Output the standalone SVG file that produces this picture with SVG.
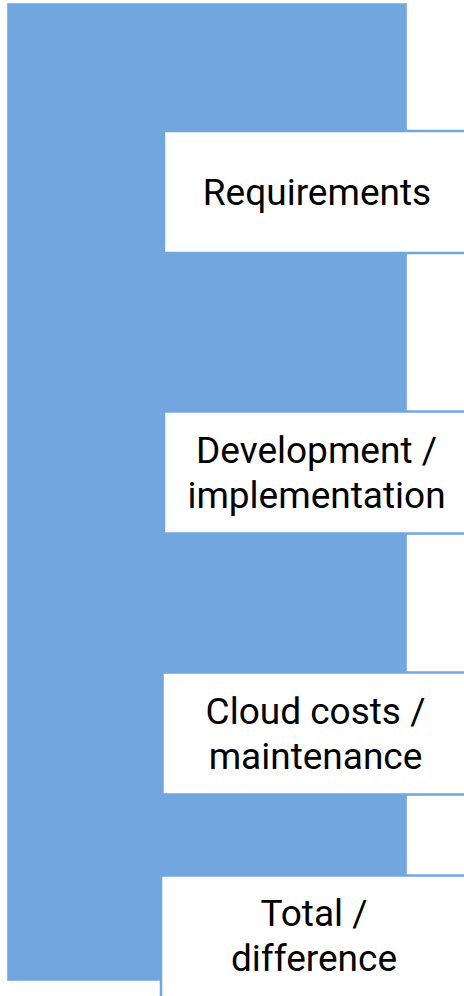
<svg xmlns="http://www.w3.org/2000/svg" width="464" height="996" viewBox="0 0 464 996">
<style>
.bg{fill:#71a6de;stroke:#8fb9e6;stroke-width:1}
.box{fill:#ffffff;stroke:#71a6de;stroke-width:2.5}
.t{font-family:Roboto,"Liberation Sans",sans-serif;font-size:37px;fill:#000000;text-anchor:middle}
</style>
<rect width="464" height="996" fill="#ffffff"/>
<g id="background">
<rect class="bg" x="7.5" y="3.5" width="399" height="977"/>
</g>
<g id="requirements">
<rect class="box" x="164" y="131" width="320" height="122"/>
<text class="t" x="317" y="205">Requirements</text>
</g>
<g id="development">
<rect class="box" x="164" y="411.5" width="320" height="122"/>
<text class="t" x="316.5" y="463">Development /</text>
<text class="t" x="316.5" y="508">implementation</text>
</g>
<g id="cloud">
<rect class="box" x="162.5" y="672.5" width="320" height="122"/>
<text class="t" x="315.5" y="724">Cloud costs /</text>
<text class="t" x="315.5" y="769">maintenance</text>
</g>
<g id="total">
<rect class="box" x="161" y="875.5" width="320" height="140"/>
<text class="t" x="314" y="926">Total /</text>
<text class="t" x="314" y="971">difference</text>
</g>
<g id="connectors"></g>
</svg>
